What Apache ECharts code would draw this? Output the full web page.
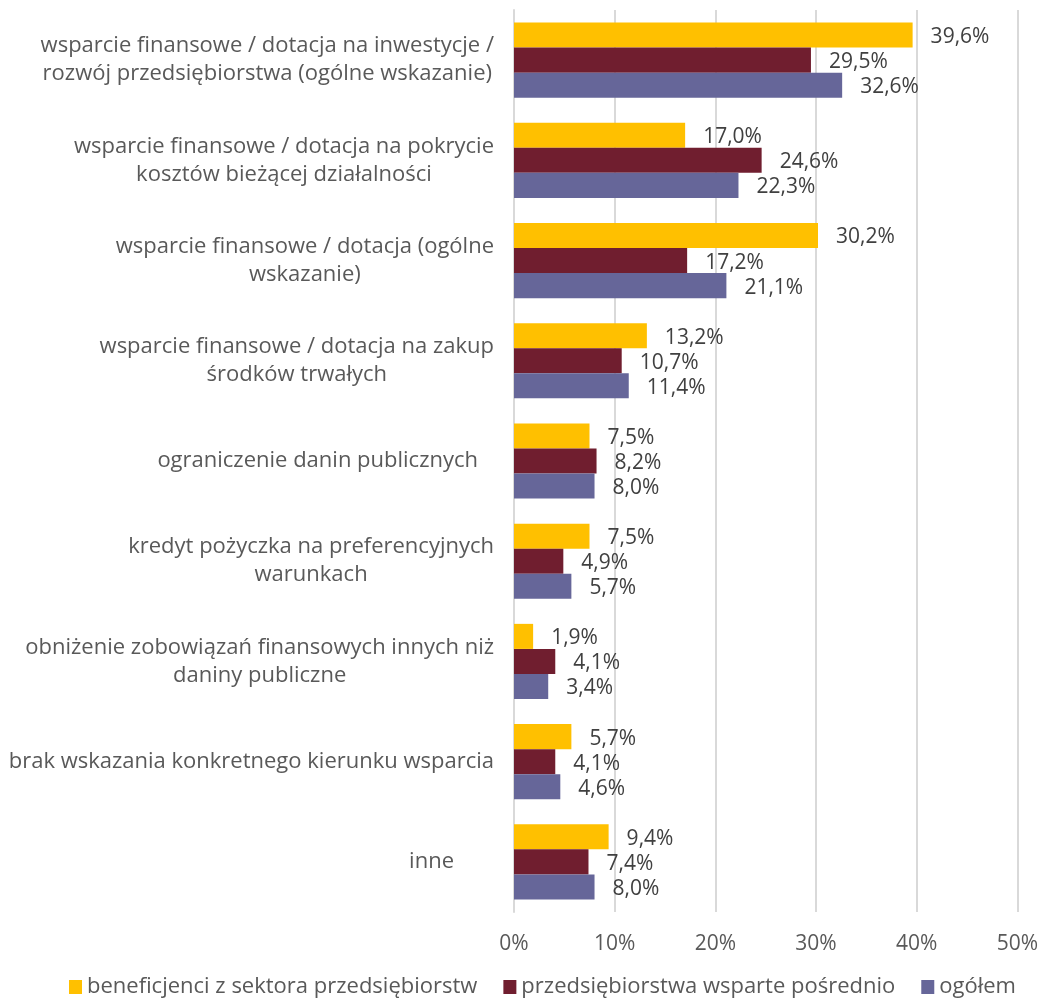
<!DOCTYPE html>
<html>
<head>
<meta charset="utf-8">
<script src="https://cdn.jsdelivr.net/npm/echarts@6/dist/echarts.min.js"></script>
<style>
  html, body { margin: 0; padding: 0; background: #fff; }
  #chart { width: 1041px; height: 1000px; }
</style>
</head>
<body>
<div id="chart"></div>
<script>
// Categories (top to bottom), wrapped onto lines as displayed
const categories = [
  'wsparcie finansowe / dotacja na inwestycje /\nrozwój przedsiębiorstwa (ogólne wskazanie)',
  'wsparcie finansowe / dotacja na pokrycie\nkosztów bieżącej działalności',
  'wsparcie finansowe / dotacja (ogólne\nwskazanie)',
  'wsparcie finansowe / dotacja na zakup\nśrodków trwałych',
  'ograniczenie danin publicznych',
  'kredyt pożyczka na preferencyjnych\nwarunkach',
  'obniżenie zobowiązań finansowych innych niż\ndaniny publiczne',
  'brak wskazania konkretnego kierunku wsparcia',
  'inne'
];

const seriesNames = [
  'beneficjenci z sektora przedsiębiorstw',
  'przedsiębiorstwa wsparte pośrednio',
  'ogółem'
];

// Shares in percent
const beneficjenci = [39.6, 17.0, 30.2, 13.2, 7.5, 7.5, 1.9, 5.7, 9.4];
const posrednio    = [29.5, 24.6, 17.2, 10.7, 8.2, 4.9, 4.1, 4.1, 7.4];
const ogolem       = [32.6, 22.3, 21.1, 11.4, 8.0, 5.7, 3.4, 4.6, 8.0];

const xTicks = [0, 10, 20, 30, 40, 50];

const colors = ['#FFC000', '#701E2F', '#666699'];
const FONT = '"Open Sans", "Noto Sans", sans-serif';

const fmtPct = v => v.toFixed(1).replace('.', ',') + '%';

// Short labels sit a little further from the axis
const labelInsetRight = { 'ograniczenie danin publicznych': 16, 'inne': 40 };

const yAxisData = categories.map(c => (
  labelInsetRight[c]
    ? { value: c, textStyle: { padding: [0, labelInsetRight[c], 0, 0] } }
    : c
));

function barSeries(name, data, color) {
  return {
    name: name,
    type: 'bar',
    data: data,
    barGap: '0%',
    barCategoryGap: '25%',
    itemStyle: { color: color },
    label: {
      show: true,
      position: 'right',
      distance: 18,
      offset: [0, 2],
      formatter: p => fmtPct(p.value),
      color: '#404040',
      fontFamily: FONT,
      fontSize: 21
    }
  };
}

const chart = echarts.init(document.getElementById('chart'), null, { renderer: 'canvas' });

chart.setOption({
  animation: false,
  backgroundColor: '#ffffff',
  color: colors,
  grid: { left: 514, right: 23, top: 10, bottom: 88, containLabel: false },
  xAxis: {
    type: 'value',
    min: xTicks[0],
    max: xTicks[xTicks.length - 1],
    interval: 10,
    axisLine: { show: false },
    axisTick: { show: false },
    splitLine: { show: true, lineStyle: { color: '#D9D9D9', width: 2 } },
    axisLabel: {
      margin: 22,
      color: '#595959',
      fontFamily: FONT,
      fontSize: 21,
      formatter: v => v + '%'
    }
  },
  yAxis: {
    type: 'category',
    inverse: true,
    data: yAxisData,
    axisLine: { show: true, lineStyle: { color: '#D9D9D9', width: 2 } },
    axisTick: { show: false },
    axisLabel: {
      margin: 20,
      align: 'right',
      color: '#595959',
      fontFamily: FONT,
      fontSize: 22,
      lineHeight: 28,
      formatter: v => v.split('\n').map(l => '{c|' + l + '}').join('\n'),
      rich: {
        c: {
          align: 'center',
          color: '#595959',
          fontFamily: FONT,
          fontSize: 22,
          lineHeight: 28
        }
      }
    }
  },
  legend: {
    top: 971,
    left: 64,
    itemWidth: 13,
    itemHeight: 14,
    itemGap: 26,
    icon: 'rect',
    textStyle: { color: '#595959', fontFamily: FONT, fontSize: 22 },
    data: seriesNames
  },
  series: [
    barSeries(seriesNames[0], beneficjenci, colors[0]),
    barSeries(seriesNames[1], posrednio, colors[1]),
    barSeries(seriesNames[2], ogolem, colors[2])
  ]
});
</script>
</body>
</html>
